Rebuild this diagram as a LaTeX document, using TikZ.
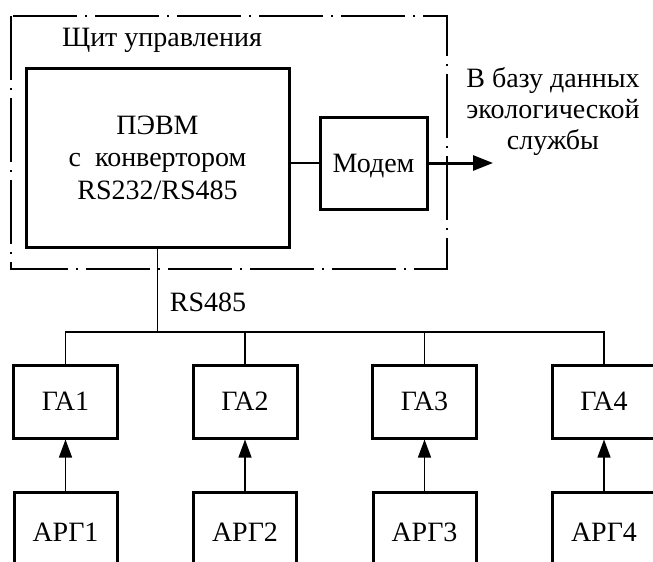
\documentclass[tikz,border=0pt]{standalone}
\usepackage{fontspec}
\setmainfont{Liberation Serif}
\usetikzlibrary{arrows.meta}
\begin{document}
\begin{tikzpicture}[x=1pt,y=-1pt,
  every node/.style={font=\fontsize{28}{32}\selectfont},
  blk/.style={draw,line width=3pt,inner sep=0pt,align=center},
  small/.style={text height=19pt,text depth=1pt},
  thin/.style={line width=1.3pt},
  frame/.style={line width=1.3pt,dash pattern=on 64pt off 8pt on 2pt off 8pt},
  tip/.style={-{Triangle[length=18pt,width=13pt]}}]
\useasboundingbox (0,0) rectangle (653,562);
\clip (0,0) rectangle (653,562);
% frame
\draw[frame] (11,16) rectangle (447,269);
\node (shield) at (162,40) {Щит управления};
% main boxes
\node[blk,minimum width=263pt,minimum height=179pt,font=\fontsize{28}{32.5}\selectfont] (pc) at (157.5,157.5)
  {ПЭВМ\\с~~конвертором\\RS232/RS485};
\node[blk,small,minimum width=107pt,minimum height=92pt] (modem) at (373.5,163) {Модем};
\node[align=center,font=\fontsize{28}{31}\selectfont] (db) at (553,111) {В базу данных\\экологической\\службы};
\coordinate (out) at (493,163);
\draw[thin] (pc.east |- modem.west) -- (modem.west);
\draw[line width=3pt,-{Triangle[length=20pt,width=15pt]}] (modem.east) -- (out);
% bus
\coordinate (busL) at (65.5,332);
\coordinate (busR) at (604,332);
\coordinate (busT) at (157.5,332);
\draw[thin] (pc.south) -- (busT);
\node (rs) at (208,302) {RS485};
% GA boxes
\foreach \i/\x in {1/65.5,2/245,3/424.5,4/604}{
  \node[blk,small,minimum width=104pt,minimum height=73pt] (ga\i) at (\x,401.5) {ГА\i};
  \node[blk,small,minimum width=103pt,minimum height=80pt] (arg\i) at (\x,532) {АРГ\i};
  \draw[thin,tip] (arg\i.north) -- (ga\i.south);
}
\draw[thin] (ga1.north) -- (busL) -- (busR) -- (ga4.north);
\draw[thin] (ga2.north) -- (ga2.north |- busL);
\draw[thin] (ga3.north) -- (ga3.north |- busL);
\end{tikzpicture}
\end{document}
